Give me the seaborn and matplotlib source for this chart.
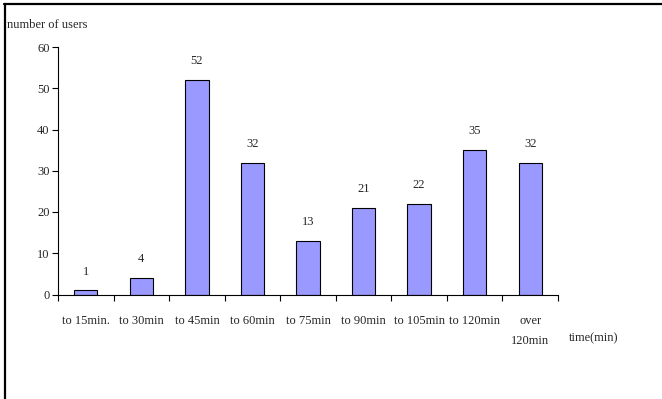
import matplotlib
matplotlib.use("Agg")
import matplotlib.pyplot as plt
from matplotlib.lines import Line2D
import numpy as np
import seaborn as sns

categories = ["to 15min.", "to 30min", "to 45min", "to 60min", "to 75min",
              "to 90min", "to 105min", "to 120min", "over\n120min"]
users = [1, 4, 52, 32, 13, 21, 22, 35, 32]
y_ticks = [0, 10, 20, 30, 40, 50, 60]

sns.set_style("white")
plt.rcParams["font.family"] = ["Liberation Serif", "DejaVu Serif"]
FS = 9
plt.rcParams["font.size"] = FS

W, H = 662, 399
fig = plt.figure(figsize=(W / 100, H / 100), dpi=100)
ax = fig.add_axes([58 / W, 104.5 / H, 500 / W, 247.5 / H])

sns.barplot(x=categories, y=users, color="#9999FF", edgecolor="black",
            linewidth=0.8, width=0.42, saturation=1, ax=ax)

ax.set_ylim(0, 60)
ax.set_xlim(-0.5, len(categories) - 0.5)
ax.set_yticks(y_ticks)
ax.set_xlabel("")
ax.set_ylabel("")

for s in ["top", "right"]:
    ax.spines[s].set_visible(False)
for s in ["left", "bottom"]:
    ax.spines[s].set_color("black")
    ax.spines[s].set_linewidth(0.8)

ax.tick_params(axis="y", direction="out", length=4, width=0.8, color="black",
               pad=2, left=True, labelsize=FS)
ax.set_xticks(np.arange(-0.5, len(categories), 1.0), minor=True)
ax.tick_params(axis="x", which="minor", direction="out", length=4.5, width=0.8,
               color="black", bottom=True)
ax.tick_params(axis="x", which="major", length=0, pad=15, labelsize=FS)
for lbl in ax.get_xticklabels():
    lbl.set_verticalalignment("top")
    lbl.set_linespacing(1.9)

for i, v in enumerate(users):
    ax.annotate(str(v), (i, v), xytext=(0, 13.5), textcoords="offset points",
                ha="center", va="center", fontsize=FS)

fig.text(7 / W, 1 - 25 / H, "number of users", ha="left", va="center", fontsize=FS)
fig.text(569 / W, 1 - 338 / H, "time(min)", ha="left", va="center", fontsize=FS)

# frame lines along the top and left edges
fig.add_artist(Line2D([4 / W, 1], [1 - 3.5 / H, 1 - 3.5 / H], color="black",
                      linewidth=1.6, transform=fig.transFigure))
fig.add_artist(Line2D([4.5 / W, 4.5 / W], [0, 1 - 3.5 / H], color="black",
                      linewidth=1.6, transform=fig.transFigure))

fig.savefig("out.png", dpi=100)
